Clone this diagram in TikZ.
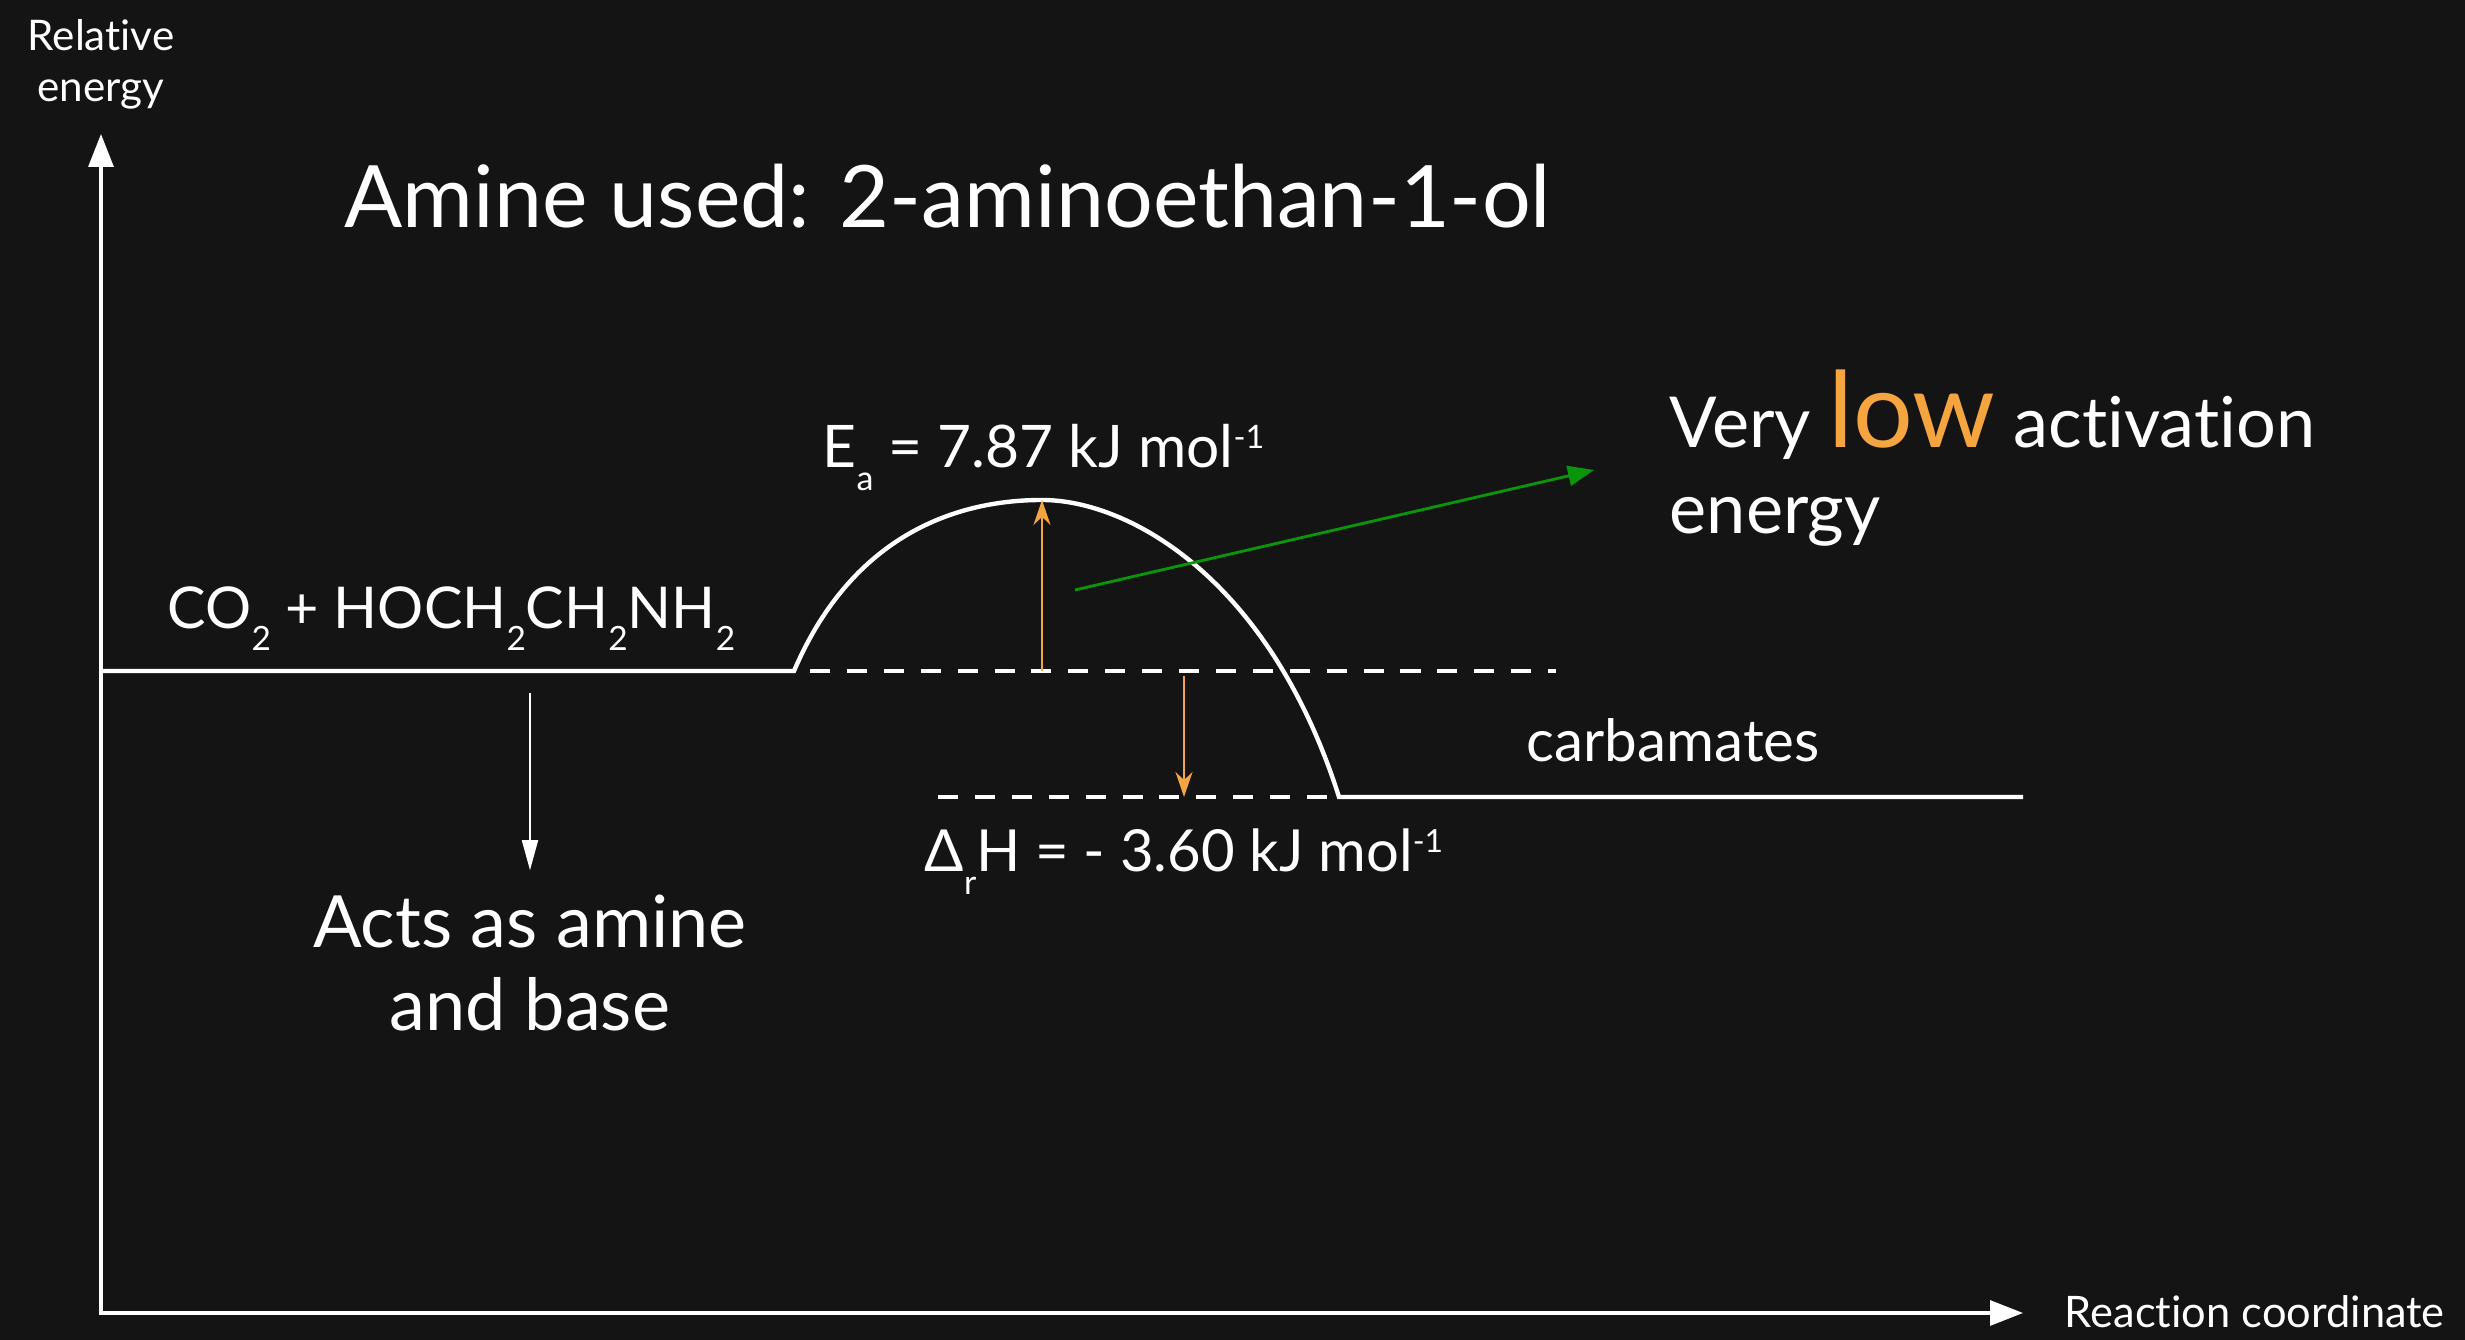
\documentclass[tikz,border=0pt]{standalone}
\usepackage{fontspec}
\setmainfont{Lato}[Ligatures=NoCommon]
\usetikzlibrary{arrows.meta, positioning}

\definecolor{hintergrund}{HTML}{141414}
\definecolor{orangeton}{HTML}{F5A540}
\definecolor{gruenton}{HTML}{0A960A}

% tiefgestellt / hochgestellt wie im Original
\newcommand{\tief}[1]{\raisebox{-0.75ex}{\scalebox{0.58}{#1}}}
\newcommand{\hoch}[1]{\raisebox{0.65ex}{\scalebox{0.55}{#1}}}

\begin{document}
\begin{tikzpicture}[every node/.style={text=white, inner sep=0pt},
		niveau/.style={white, line width=1.25pt},
		hilfslinie/.style={white, line width=1.25pt, dash pattern=on 5.7pt off 4.8pt},
		achse/.style={white, line width=0.9pt, {Triangle[length=3.3mm,width=2.5mm]}-{Triangle[length=3.3mm,width=2.5mm]}},
		pfeilorange/.style={orangeton, line width=0.6pt, -{Stealth[length=2.5mm,width=1.7mm]}}]
			% Hintergrund
			\fill[hintergrund] (0,0) rectangle (24.65,13.4);
			\useasboundingbox (0,0) rectangle (24.65,13.4);
			
			% Achsen
			\coordinate (ursprung) at (1.01,0.27);
			\coordinate (yspitze) at (1.01,12.06);
			\coordinate (xspitze) at (20.23,0.27);
			\draw[achse] (yspitze) -- (ursprung) -- (xspitze);
			\node[align=center, font=\fontsize{12}{14.5}\selectfont, anchor=north] (ylabel) at (1.01,13.21) {Relative\\energy};
			\node[font=\fontsize{12.35}{14.5}\selectfont, anchor=base west] (xlabel) at (20.64,0.12) {Reaction coordinate};
			
			% Titel
			\node[font=\fontsize{24.5}{30}\selectfont, anchor=base west] (titel) at (3.44,11.12) {Amine used: 2-aminoethan-1-ol};
			
			% Energieverlauf
			\coordinate (startlinks) at (1.01,6.69);
			\coordinate (hangstart) at (7.94,6.69);
			\coordinate (gipfel) at (10.42,8.40);
			\coordinate (hangende) at (13.39,5.43);
			\coordinate (endrechts) at (20.23,5.43);
			\draw[niveau] (startlinks) -- (hangstart) .. controls (8.5,8.0) and (9.5,8.40) .. (gipfel)
				.. controls (11.3,8.40) and (12.7,7.6) .. (hangende) -- (endrechts);
			
			% gestrichelte Hilfslinien
			\coordinate (oben-a) at (8.1,6.69);
			\coordinate (oben-b) at (15.56,6.69);
			\coordinate (unten-a) at (9.38,5.43);
			\draw[hilfslinie] (oben-a) -- (oben-b);
			\draw[hilfslinie] (unten-a) -- (hangende);
			
			% Ea und Delta H
			\coordinate (ea-fuss) at (10.42,6.69);
			\coordinate (dh-oben) at (11.84,6.64);
			\coordinate (dh-unten) at (11.84,5.43);
			\draw[pfeilorange] (ea-fuss) -- (gipfel);
			\draw[pfeilorange] (dh-oben) -- (dh-unten);
			\node[font=\fontsize{16.7}{20}\selectfont, anchor=base west] (ea) at (8.22,8.72) {E\tief{a} = 7.87 kJ mol\hoch{-1}};
			\node[font=\fontsize{16.5}{20}\selectfont, anchor=base west] (dh) at (9.24,4.68) {Δ\tief{r}H = - 3.60 kJ mol\hoch{-1}};
			
			% Edukte und Produkte
			\node[font=\fontsize{16.4}{20}\selectfont, anchor=base west] (edukte) at (1.67,7.11) {CO\tief{2} + HOCH\tief{2}CH\tief{2}NH\tief{2}};
			\node[font=\fontsize{16.6}{19}\selectfont, anchor=base west] (produkte) at (15.26,5.78) {carbamates};
			
			% Hinweis Amin
			\node[align=center, font=\fontsize{20.5}{23.6}\selectfont] (amin) at (5.30,3.77) {Acts as amine\\and base};
			\coordinate (amin-oben) at (5.30,6.47);
			\draw[white, line width=0.5pt, -{Triangle[length=3mm,width=1.6mm]}] (amin-oben) -- ([yshift=0.24cm]amin.north);
			
			% Hinweis niedrige Aktivierungsenergie
			\coordinate (gruen-start) at (10.75,7.50);
			\coordinate (gruen-ende) at (15.94,8.70);
			\draw[gruenton, line width=0.8pt, -{Triangle[length=2.6mm,width=2mm]}] (gruen-start) -- (gruen-ende);
			\node[font=\fontsize{20}{24}\selectfont, anchor=base west] (sehr) at (16.69,8.92) {Very \textcolor{orangeton}{\fontsize{30}{36}\selectfont low} act\kern0pt ivation};
			\node[font=\fontsize{20}{24}\selectfont, anchor=base west] (energie) at ([yshift=-0.86cm]sehr.base west) {energy};
		\end{tikzpicture}
\end{document}
